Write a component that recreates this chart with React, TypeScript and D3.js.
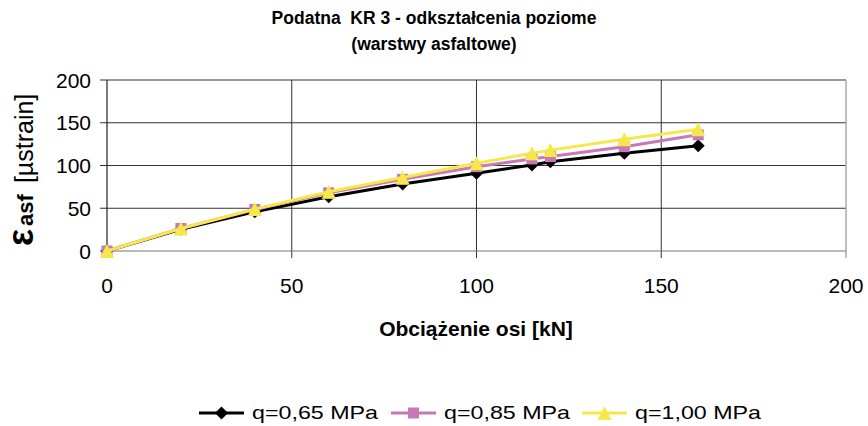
import { useEffect, useRef } from "react";
import * as d3 from "d3";

// loads on the axle [kN]
const loads = [0, 20, 40, 60, 80, 100, 115, 120, 140, 160];
// horizontal strain in asphalt layers [µstrain]
const q065 = [0, 25.5, 45.8, 63.4, 78.3, 90.9, 100.6, 104.5, 114.4, 123];
const q085 = [0, 26.3, 48.6, 68, 83.8, 98.6, 107.7, 110.4, 122, 135.9];
const q100 = [0, 26.3, 49, 69.3, 86, 102.6, 114.4, 118, 130.8, 142.5];

const xTicks = [0, 50, 100, 150, 200];
const yTicks = [0, 50, 100, 150, 200];

const series = [
  { name: "q=0,65 MPa", values: q065, color: "#000000", marker: "diamond" },
  { name: "q=0,85 MPa", values: q085, color: "#c878b6", marker: "square" },
  { name: "q=1,00 MPa", values: q100, color: "#f6e84a", marker: "triangle" },
];

const W = 868;
const H = 426;
const font = "'Liberation Sans', Arial, Helvetica, sans-serif";

export default function App() {
  const svgRef = useRef<SVGSVGElement>(null);

  useEffect(() => {
    const svg = d3.select(svgRef.current!);
    svg.selectAll("*").remove();

    const x = d3.scaleLinear().domain([0, 200]).range([107, 846]);
    const y = d3.scaleLinear().domain([0, 200]).range([251, 80]);

    // title
    const title = svg
      .append("text")
      .attr("x", 434)
      .attr("text-anchor", "middle")
      .attr("font-family", font)
      .attr("font-weight", "bold")
      .attr("font-size", 17.5)
      .attr("fill", "#000");
    title.append("tspan").attr("x", 434).attr("y", 24).attr("xml:space", "preserve").text("Podatna  KR 3 - odkształcenia poziome");
    title.append("tspan").attr("x", 434).attr("y", 50).text("(warstwy asfaltowe)");

    // grid
    const grid = svg.append("g");
    grid
      .selectAll(".hg")
      .data(yTicks.filter((d) => d > 0))
      .join("line")
      .attr("x1", x(0) - 7)
      .attr("x2", x(200))
      .attr("y1", (d) => y(d))
      .attr("y2", (d) => y(d))
      .attr("stroke", "#333")
      .attr("stroke-width", 1);
    grid
      .selectAll(".vg")
      .data(xTicks.filter((d) => d > 0 && d < 200))
      .join("line")
      .attr("x1", (d) => x(d))
      .attr("x2", (d) => x(d))
      .attr("y1", y(200))
      .attr("y2", y(0) + 7)
      .attr("stroke", "#333")
      .attr("stroke-width", 1);
    // plot border right side
    grid
      .append("line")
      .attr("x1", x(200))
      .attr("x2", x(200))
      .attr("y1", y(200))
      .attr("y2", y(0) + 7)
      .attr("stroke", "#aaa")
      .attr("stroke-width", 1.5);
    // x axis
    grid
      .append("line")
      .attr("x1", x(0) - 7)
      .attr("x2", x(200))
      .attr("y1", y(0))
      .attr("y2", y(0))
      .attr("stroke", "#777")
      .attr("stroke-width", 1.2);
    // y axis
    grid
      .append("line")
      .attr("x1", x(0))
      .attr("x2", x(0))
      .attr("y1", y(200))
      .attr("y2", y(0) + 7)
      .attr("stroke", "#222")
      .attr("stroke-width", 1.2);

    // tick labels
    svg
      .append("g")
      .selectAll("text")
      .data(yTicks)
      .join("text")
      .attr("x", 91)
      .attr("y", (d) => y(d) + 7.5)
      .attr("text-anchor", "end")
      .attr("font-family", font)
      .attr("font-size", 21)
      .text((d) => d);
    svg
      .append("g")
      .selectAll("text")
      .data(xTicks)
      .join("text")
      .attr("x", (d) => x(d))
      .attr("y", 293)
      .attr("text-anchor", "middle")
      .attr("font-family", font)
      .attr("font-size", 21)
      .text((d) => d);

    // axis titles
    svg
      .append("text")
      .attr("x", 476)
      .attr("y", 336)
      .attr("text-anchor", "middle")
      .attr("font-family", font)
      .attr("font-weight", "bold")
      .attr("font-size", 21)
      .text("Obciążenie osi [kN]");

    const yl = svg
      .append("text")
      .attr("transform", "translate(33,246) rotate(-90)")
      .attr("font-family", font);
    yl.append("tspan").attr("font-size", 36).attr("font-weight", "bold").text("ε");
    yl.append("tspan").attr("dx", 3).attr("font-size", 22).attr("font-weight", "bold").text("asf");
    yl.append("tspan").attr("dx", 11).attr("font-size", 25).text("[µstrain]");

    // markers
    const drawMarker = (
      g: d3.Selection<SVGGElement, unknown, null, undefined>,
      kind: string,
      cx: number,
      cy: number,
      color: string
    ) => {
      if (kind === "diamond") {
        g.append("path")
          .attr("d", `M${cx},${cy - 6.5}L${cx + 6.5},${cy}L${cx},${cy + 6.5}L${cx - 6.5},${cy}Z`)
          .attr("fill", color);
      } else if (kind === "square") {
        g.append("rect")
          .attr("x", cx - 5.5)
          .attr("y", cy - 5.5)
          .attr("width", 11)
          .attr("height", 11)
          .attr("fill", color);
      } else {
        g.append("path")
          .attr("d", `M${cx},${cy - 7}L${cx + 7},${cy + 7}L${cx - 7},${cy + 7}Z`)
          .attr("fill", color);
      }
    };

    const line = d3
      .line<number>()
      .x((_, i) => x(loads[i]))
      .y((d) => y(d));

    for (const s of series) {
      const g = svg.append("g");
      g.append("path")
        .attr("d", line(s.values))
        .attr("fill", "none")
        .attr("stroke", s.color)
        .attr("stroke-width", 3);
      s.values.forEach((v, i) => drawMarker(g, s.marker, x(loads[i]), y(v), s.color));
    }

    // legend
    const legendX = [199, 391, 582];
    const leg = svg.append("g");
    series.forEach((s, i) => {
      const lx = legendX[i];
      const g = leg.append("g");
      g.append("line")
        .attr("x1", lx)
        .attr("x2", lx + 45)
        .attr("y1", 413)
        .attr("y2", 413)
        .attr("stroke", s.color)
        .attr("stroke-width", 3);
      drawMarker(g, s.marker, lx + 22.5, 413, s.color);
      g.append("text")
        .attr("x", lx + 53)
        .attr("y", 419)
        .attr("font-family", font)
        .attr("font-size", 19)
        .attr("textLength", 126)
        .attr("lengthAdjust", "spacingAndGlyphs")
        .text(s.name);
    });
  }, []);

  return (
    <svg
      ref={svgRef}
      width={W}
      height={H}
      style={{ position: "absolute", left: 0, top: 0, background: "#fff" }}
    />
  );
}
